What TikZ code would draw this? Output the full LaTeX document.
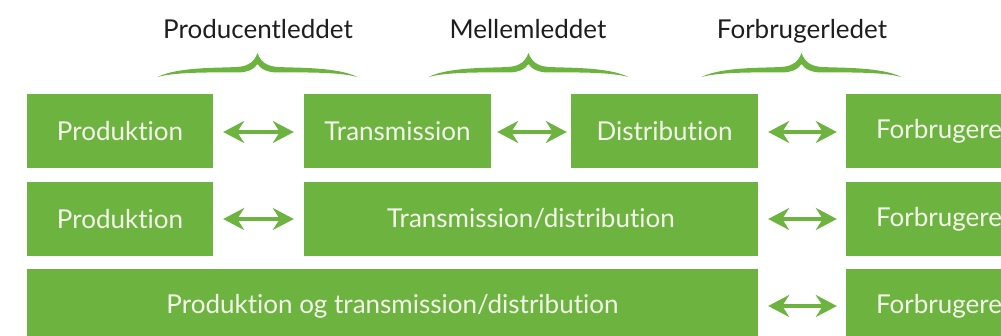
\documentclass[tikz,border=0pt]{standalone}
\usepackage{fontspec}
\setmainfont{Lato}[Ligatures={NoCommon}]
\usetikzlibrary{arrows.meta}
\definecolor{leaf}{RGB}{109,179,63}
\definecolor{boxtext}{RGB}{244,246,236}
\definecolor{labeltext}{RGB}{30,30,30}
\tikzset{
  greenbox/.style={fill=leaf, draw=none, inner sep=0pt, minimum height=74pt,
    text=boxtext, font=\fontsize{26}{30}\selectfont},
  toplabel/.style={anchor=base, text=labeltext, inner sep=0pt, font=\fontsize{26}{30}\selectfont},
  dblarrow/.style={draw=leaf, line width=4pt,
    {Stealth[length=21pt,width=22pt,inset=7pt]}-{Stealth[length=21pt,width=22pt,inset=7pt]},
    shorten <=10pt, shorten >=10pt},
  bracefill/.style={fill=leaf, draw=none}
}
\newcommand{\greenbrace}[2]{%
  \fill[bracefill, shift={(#1,#2)}]
    (-100,24) .. controls (-80,14) and (-40,15) .. (-20,14)
    .. controls (-8,13) and (-3,8) .. (0,0)
    .. controls (3,8) and (8,13) .. (20,14)
    .. controls (40,15) and (80,14) .. (100,24)
    .. controls (80,18.5) and (40,19.5) .. (20,19.5)
    .. controls (10,19.5) and (3,16) .. (0,11)
    .. controls (-3,16) and (-10,19.5) .. (-20,19.5)
    .. controls (-40,19.5) and (-80,18.5) .. (-100,24) -- cycle;}
\begin{document}
\begin{tikzpicture}[x=1pt,y=-1pt]
\useasboundingbox (0,0) rectangle (1001,336);
\clip (0,0) rectangle (1001,336);
% top labels
\node[toplabel] (lp) at (258,39) {Producentleddet};
\node[toplabel] (lm) at (528,39) {Mellemleddet};
\node[toplabel] (lf) at (802,39) {Forbrugerledet};
\greenbrace{257.5}{53}
\greenbrace{528.5}{53}
\greenbrace{801.5}{53}
% row 1
\node[greenbox, minimum width=186pt] (p1) at (120,131) {Produktion};
\node[greenbox, minimum width=187pt] (t1) at (397.5,131) {Transmission};
\node[greenbox, minimum width=187pt] (d1) at (664.5,131) {Distribution};
\node[greenbox, minimum width=186pt] (f1) at (939,131) {Forbrugere};
% row 2
\node[greenbox, minimum width=186pt] (p2) at (120,219) {Produktion};
\node[greenbox, minimum width=454pt] (t2) at (531,219) {Transmission/distribution};
\node[greenbox, minimum width=186pt] (f2) at (939,219) {Forbrugere};
% row 3
\node[greenbox, minimum width=731pt] (p3) at (392.5,306) {Produktion og transmission/distribution};
\node[greenbox, minimum width=186pt] (f3) at (939,306) {Forbrugere};
% arrows
\draw[dblarrow] ([yshift=-1pt]p1.east) -- ([yshift=-1pt]t1.west);
\draw[dblarrow, shorten <=6pt, shorten >=4pt] ([yshift=-1pt]t1.east) -- ([yshift=-1pt]d1.west);
\draw[dblarrow, shorten >=9pt] ([yshift=-1pt]d1.east) -- ([yshift=-1pt]f1.west);
\draw[dblarrow] (p2.east) -- (t2.west);
\draw[dblarrow, shorten >=9pt] (t2.east) -- (f2.west);
\draw[dblarrow, shorten >=9pt] (p3.east) -- (f3.west);
\end{tikzpicture}
\end{document}
